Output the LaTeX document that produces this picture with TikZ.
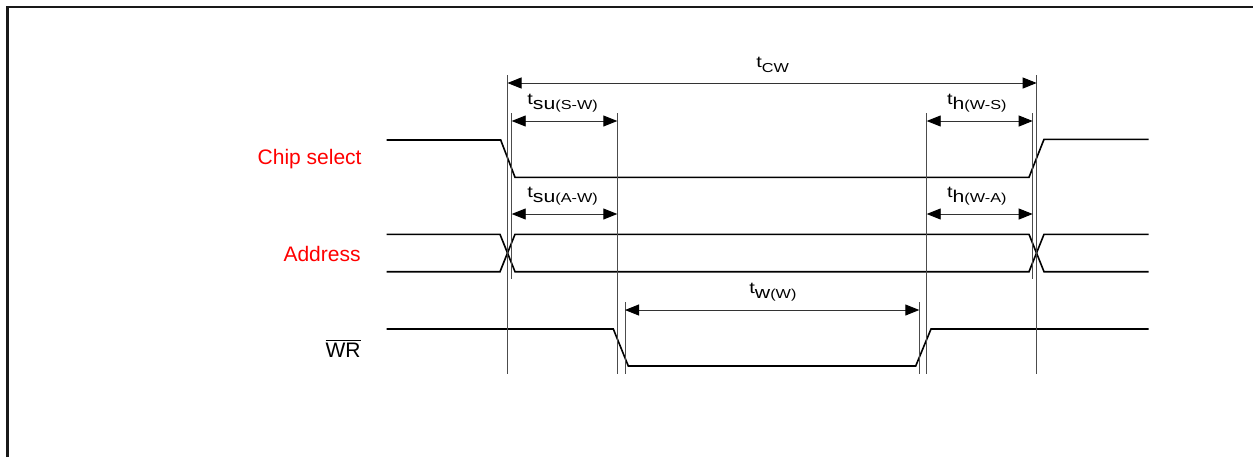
\documentclass[tikz,border=0pt]{standalone}
\usepackage{fontspec}
\setmainfont{Liberation Sans}
\usepackage{graphicx}
\usetikzlibrary{arrows.meta}
\newcommand{\tsub}[2]{\scalebox{1.25}[1]{t\raisebox{-2.8pt}{\fontsize{8.5}{9}\selectfont #1\fontsize{6.5}{7}\selectfont #2}}}
\tikzset{
  sig/.style={line width=0.8pt, line join=miter},
  guide/.style={line width=0.4pt, black!70},
  dim/.style={line width=0.45pt, black!80, {Triangle[length=7pt,width=5.5pt,color=black]}-{Triangle[length=7pt,width=5.5pt,color=black]}},
  tlab/.style={anchor=base west, inner sep=0pt, font=\fontsize{8}{10}\selectfont},
  signame/.style={anchor=east, inner sep=0pt, font=\fontsize{10.5}{12.6}\selectfont}
}
\begin{document}
\begin{tikzpicture}[x=0.5pt,y=-0.5pt]
  \useasboundingbox (0,0) rectangle (1253,457);
  \draw [line width=1.1pt, black!90] (7.5,457) -- (7.5,7) -- (1253,7);
  % signal names
  \node [signame, text=red] (cs) at (362,159) {Chip select};
  \node [signame, text=red] (addr) at (361,254) {Address};
  \node [signame] (wr) at (361,348) {$\overline{\mbox{WR}}$};
  % waveforms
  \draw [sig] (386.5,140) -- (500.7,140) -- (515,177.3) -- (1029,177.3) -- (1044,139.3) -- (1148.5,139.3);
  \draw [sig] (386.5,234.3) -- (500,234.3) -- (515,271.7) -- (1029,271.7) -- (1044,234.3) -- (1148.5,234.3);
  \draw [sig] (386.5,271.7) -- (500,271.7) -- (515,234.3) -- (1029,234.3) -- (1044,271.7) -- (1148.5,271.7);
  \draw [sig] (386.5,329) -- (613.3,329) -- (628.3,366) -- (915.7,366) -- (931,329) -- (1148.5,329);
  % guide lines
  \draw [guide] (507.5,75) -- (507.5,374);
  \draw [guide] (511.7,113) -- (511.7,279);
  \draw [guide] (617.3,113) -- (617.3,374);
  \draw [guide] (625,302) -- (625,374);
  \draw [guide] (919.3,302) -- (919.3,374);
  \draw [guide] (926.7,113) -- (926.7,374);
  \draw [guide] (1032.7,113) -- (1032.7,279);
  \draw [guide] (1036.7,75) -- (1036.7,374);
  % timing arrows
  \coordinate (cwL) at (507.5,83);  \coordinate (cwR) at (1036.7,83);
  \coordinate (suswL) at (511.7,121); \coordinate (suswR) at (617.3,121);
  \coordinate (hwsL) at (926.7,121); \coordinate (hwsR) at (1032.7,121);
  \coordinate (suawL) at (511.7,214); \coordinate (suawR) at (617.3,214);
  \coordinate (hwaL) at (926.7,214); \coordinate (hwaR) at (1032.7,214);
  \coordinate (wwL) at (625,310);   \coordinate (wwR) at (919.3,310);
  \draw [dim] (cwL) -- (cwR);
  \draw [dim] (suswL) -- (suswR);
  \draw [dim] (hwsL) -- (hwsR);
  \draw [dim] (suawL) -- (suawR);
  \draw [dim] (hwaL) -- (hwaR);
  \draw [dim] (wwL) -- (wwR);
  % timing labels
  \node [tlab] (tcw) at (756,67) {\tsub{}{CW}};
  \node [tlab] (tsusw) at (527,104) {\tsub{su}{(S-W)}};
  \node [tlab] (thws) at (946.7,104) {\tsub{h}{(W-S)}};
  \node [tlab] (tsuaw) at (527,197) {\tsub{su}{(A-W)}};
  \node [tlab] (thwa) at (946.7,197) {\tsub{h}{(W-A)}};
  \node [tlab] (tww) at (749,293) {\tsub{w}{(W)}};
\end{tikzpicture}
\end{document}
